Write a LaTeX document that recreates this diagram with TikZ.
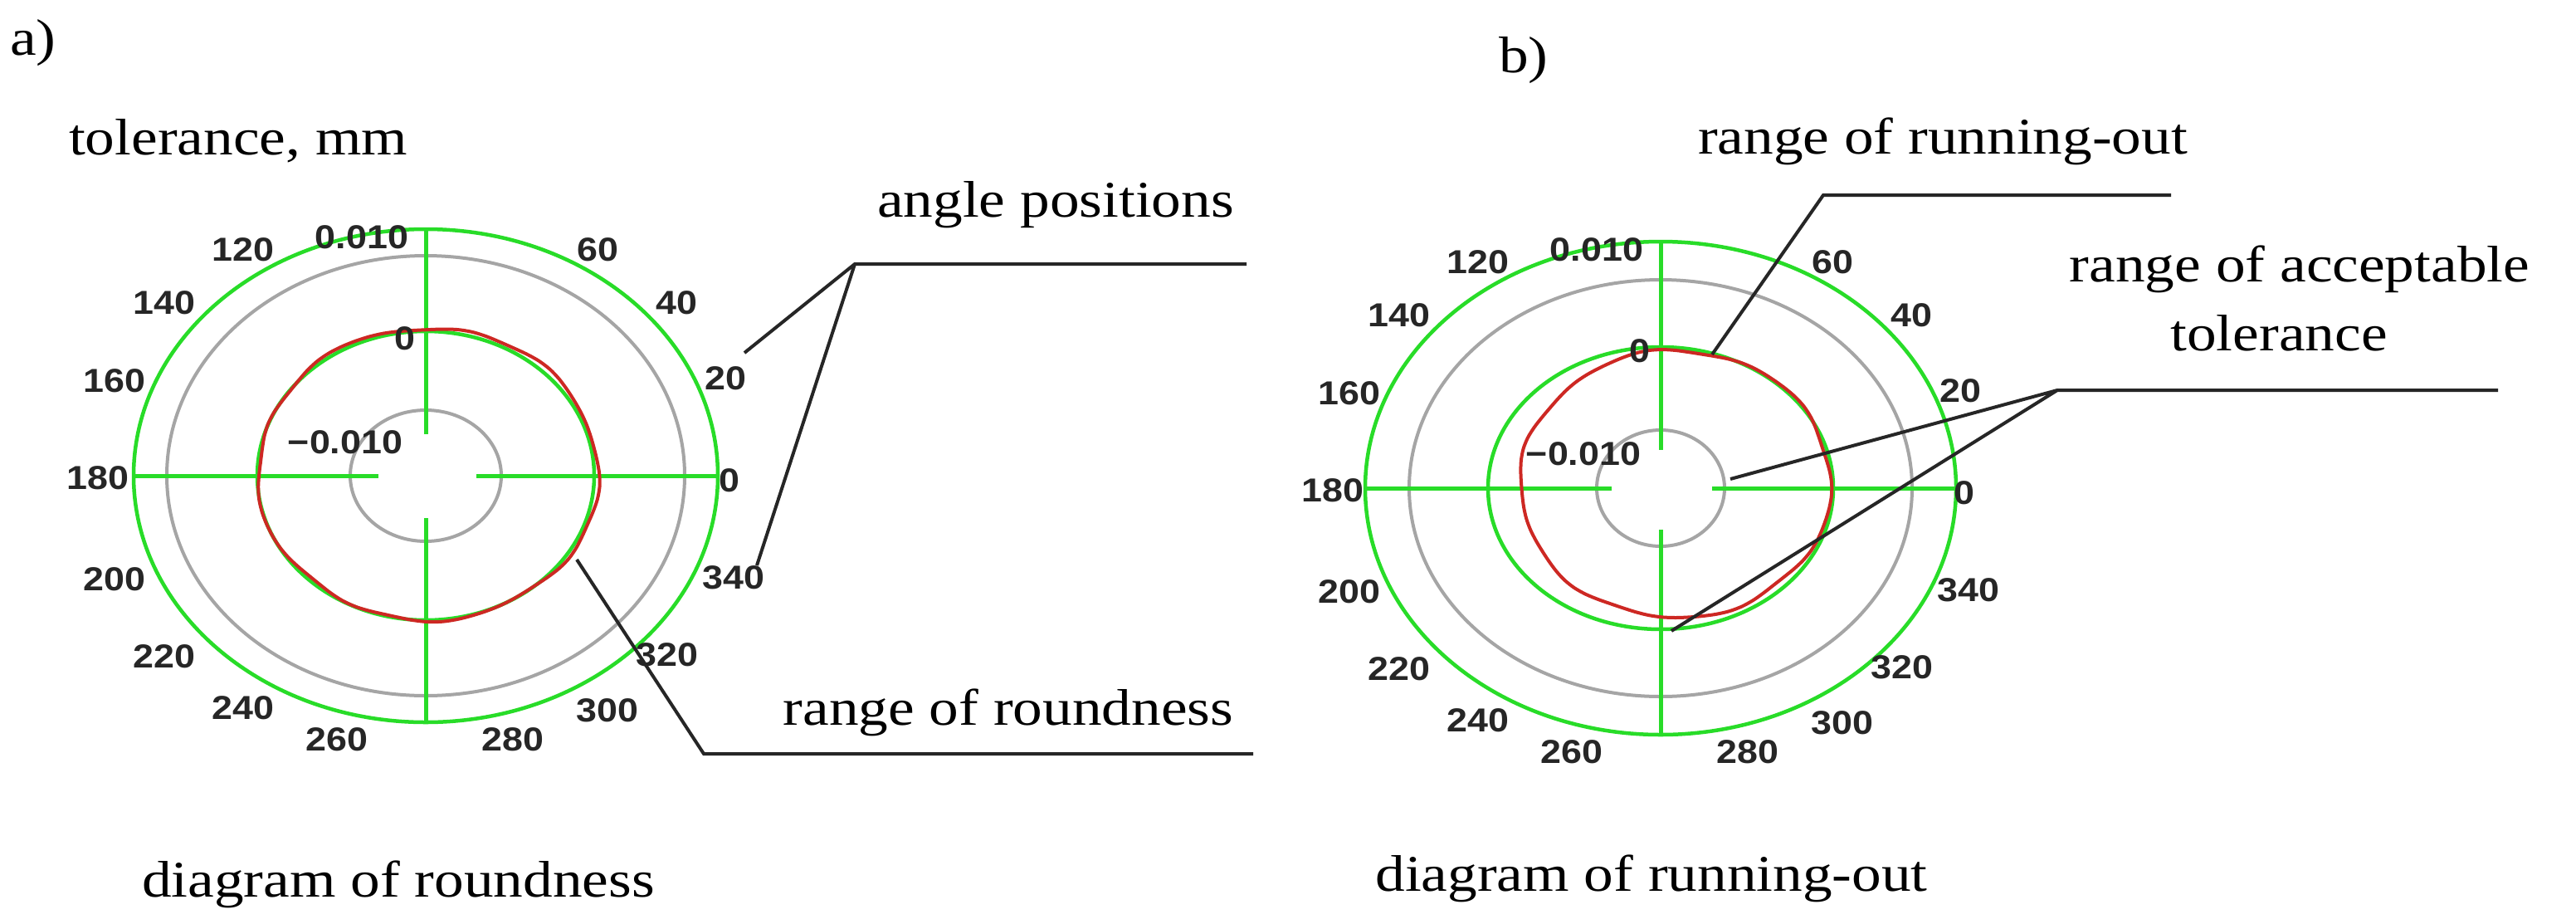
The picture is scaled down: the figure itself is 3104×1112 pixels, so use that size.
\documentclass[tikz,border=0pt]{standalone}
\usepackage{fontspec}
\setmainfont{Liberation Serif}
\newfontfamily\lsans{Liberation Sans}
\begin{document}
\begin{tikzpicture}[x=1pt,y=-1pt,
  lab/.style={font=\fontsize{62}{70}\selectfont, xscale=1.15, transform shape, inner sep=0pt},
  num/.style={font=\lsans\bfseries\fontsize{40}{44}\selectfont, xscale=1.12, transform shape, inner sep=0pt, text=black!85},
  gax/.style={color={rgb,255:red,40;green,220;blue,40}, line width=5pt},
  gcirc/.style={color={rgb,255:red,40;green,220;blue,40}, line width=4.5pt},
  gray/.style={color={rgb,255:red,165;green,165;blue,165}, line width=4pt},
  redc/.style={color={rgb,255:red,205;green,40;blue,35}, line width=4pt},
  lead/.style={black!85, line width=4pt}]
\useasboundingbox (0,0) rectangle (3104,1112);
\fill[white] (0,0) rectangle (3104,1112);

% ---------- plot a ----------
\begin{scope}[shift={(513,573)}]
\draw[gcirc] (0,0) ellipse [x radius=352, y radius=297];
\draw[gray] (0,0) ellipse [x radius=312, y radius=265];
\draw[gcirc] (0,0) ellipse [x radius=203, y radius=174];
\draw[gray] (0,0) ellipse [x radius=91, y radius=79];
\draw[gax] (-352,0) -- (-57,0) (61,0) -- (354,0);
\draw[gax] (0,-298) -- (0,-50) (0,51) -- (0,297);
\draw[redc] plot[smooth cycle, domain=0:355, samples=72, variable=\t]
  ({3+205*cos(\t)*(1+0.008*sin(5*\t)+0.006*cos(9*\t)+0.004*sin(13*\t))},
   {-2+176*sin(\t)*(1+0.008*sin(5*\t)+0.006*cos(9*\t)+0.004*sin(13*\t))});
\node[num] (a120) at (-220,-272) {120};
\node[num] (a010) at (-77,-287) {0.010};
\node[num] (a60) at (207,-272) {60};
\node[num] (a140) at (-315,-208) {140};
\node[num] (a40) at (302,-208) {40};
\node[num] (a160) at (-375,-114) {160};
\node[num] (a20) at (361,-117) {20};
\node[num] (a180) at (-395,3) {180};
\node[num] (a0) at (366,6) {0};
\node[num] (a200) at (-375,125) {200};
\node[num] (a340) at (371,123) {340};
\node[num] (a220) at (-315,218) {220};
\node[num] (a320) at (291,216) {320};
\node[num] (a240) at (-220,280) {240};
\node[num] (a300) at (219,283) {300};
\node[num] (a260) at (-107,318) {260};
\node[num] (a280) at (105,318) {280};
\node[num] (azero) at (-25,-165) {0};
\node[num] (am010) at (-97,-40) {\char"2212 0.010};
\end{scope}

% ---------- plot b ----------
\begin{scope}[shift={(2001,588)}]
\draw[gcirc] (0,0) ellipse [x radius=356, y radius=297];
\draw[gray] (0,0) ellipse [x radius=303, y radius=251];
\draw[gcirc] (0,0) ellipse [x radius=208, y radius=170];
\draw[gray] (0,0) ellipse [x radius=77, y radius=70];
\draw[gax] (-358,0) -- (-59,0) (62,0) -- (354,0);
\draw[gax] (0,-297) -- (0,-46) (0,50) -- (0,297);
\draw[redc] plot[smooth cycle, domain=0:355, samples=72, variable=\t]
  ({18+187*cos(\t)*(1+0.01*sin(6*\t)+0.006*cos(11*\t))},
   {-5+161*sin(\t)*(1+0.01*sin(6*\t)+0.006*cos(11*\t))});
\node[num] (b120) at (-220,-272) {120};
\node[num] (b010) at (-77,-287) {0.010};
\node[num] (b60) at (207,-272) {60};
\node[num] (b140) at (-315,-208) {140};
\node[num] (b40) at (302,-208) {40};
\node[num] (b160) at (-375,-114) {160};
\node[num] (b20) at (361,-117) {20};
\node[num] (b180) at (-395,3) {180};
\node[num] (b0) at (366,6) {0};
\node[num] (b200) at (-375,125) {200};
\node[num] (b340) at (371,123) {340};
\node[num] (b220) at (-315,218) {220};
\node[num] (b320) at (291,216) {320};
\node[num] (b240) at (-220,280) {240};
\node[num] (b300) at (219,283) {300};
\node[num] (b260) at (-107,318) {260};
\node[num] (b280) at (105,318) {280};
\node[num] (bzero) at (-25,-165) {0};
\node[num] (bm010) at (-93,-41) {\char"2212 0.010};
\end{scope}

% ---------- texts ----------
\node[lab] (ta) at (40,52) {a)};
\node[lab] (tb) at (1836,73) {b)};
\node[lab] (ttol) at (287,170) {tolerance, mm};
\node[lab] (tang) at (1272,247) {angle positions};
\node[lab] (trnd) at (1215,858) {range of roundness};
\node[lab] (trun) at (2341,170) {range of running-out};
\node[lab] (tacc) at (2771,324) {range of acceptable};
\node[lab] (tacc2) at (2746,401) {tolerance};
\node[lab] (tdr) at (480,1065) {diagram of roundness};
\node[lab] (tdrun) at (1990,1058) {diagram of running-out};

% ---------- leaders ----------
\coordinate (angA) at (1030,318);
\coordinate (angE) at (1502,318);
\coordinate (ang1) at (897,425);
\coordinate (ang2) at (912,681);
\draw[lead] (angE) -- (angA) -- (ang1) (angA) -- (ang2);
\coordinate (rndS) at (695,674);
\coordinate (rndC) at (848,908);
\coordinate (rndE) at (1510,908);
\draw[lead] (rndS) -- (rndC) -- (rndE);
\coordinate (runS) at (2063,427);
\coordinate (runC) at (2197,235);
\coordinate (runE) at (2616,235);
\draw[lead] (runS) -- (runC) -- (runE);
\coordinate (accA) at (2479,470);
\coordinate (accE) at (3010,470);
\coordinate (acc1) at (2085,577);
\coordinate (acc2) at (2014,760);
\draw[lead] (accE) -- (accA) -- (acc1) (accA) -- (acc2);
\end{tikzpicture}
\end{document}
